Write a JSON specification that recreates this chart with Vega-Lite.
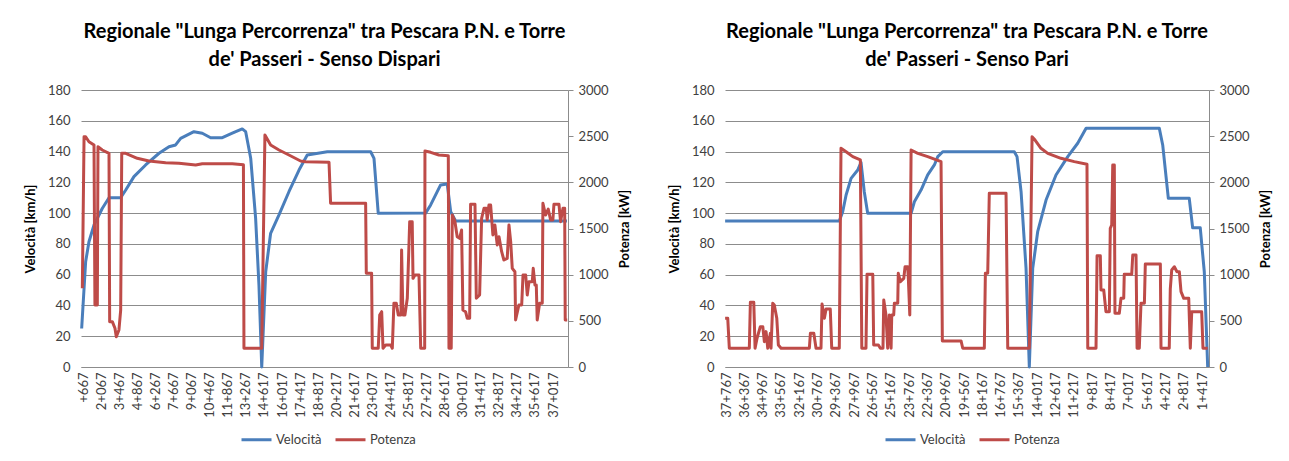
{
  "$schema": "https://vega.github.io/schema/vega-lite/v6.json",
  "padding": {"left": 24, "top": 22, "right": 5, "bottom": 2},
  "background": "white",
  "config": {
    "font": "Lato",
    "view": {"stroke": null},
    "axis": {"labelFont": "Lato", "labelFontSize": 13, "labelColor": "#404040", "titleFont": "Lato", "titleFontSize": 13, "titleFontWeight": "bold", "titleColor": "#000000", "gridColor": "#8c8c8c", "domainColor": "#8c8c8c", "tickColor": "#8c8c8c"},
    "title": {"font": "Lato", "fontSize": 20, "fontWeight": "bold", "color": "#000000", "lineHeight": 28, "anchor": "middle", "offset": 14},
    "legend": {"labelFont": "Lato", "labelFontSize": 13, "labelColor": "#404040"},
    "line": {"strokeWidth": 3, "strokeJoin": "round"}
  },
  "datasets": {
    "dv": [
      {"km": -0.10, "v": 25}, {"km": 0.20, "v": 68.4}, {"km": 0.45, "v": 81.4}, {"km": 0.83, "v": 92.3}, {"km": 1.45, "v": 103}, {"km": 1.96, "v": 110}, {"km": 2.84, "v": 110}, {"km": 3.22, "v": 115}, {"km": 3.84, "v": 123.7}, {"km": 4.72, "v": 131.3}, {"km": 5.73, "v": 138.9}, {"km": 6.48, "v": 143.1}, {"km": 6.98, "v": 144.3}, {"km": 7.36, "v": 148.6}, {"km": 8.36, "v": 152.9}, {"km": 8.99, "v": 151.9}, {"km": 9.62, "v": 149}, {"km": 10.50, "v": 149}, {"km": 11.25, "v": 151.9}, {"km": 12.00, "v": 154.7}, {"km": 12.26, "v": 152.9}, {"km": 12.64, "v": 135.6}, {"km": 13.01, "v": 96.6}, {"km": 13.26, "v": 53.3}, {"km": 13.47, "v": 0}, {"km": 13.77, "v": 61.9}, {"km": 14.14, "v": 86.9}, {"km": 14.77, "v": 98.8}, {"km": 15.52, "v": 113.9}, {"km": 16.28, "v": 128}, {"km": 16.90, "v": 137.8}, {"km": 18.41, "v": 139.9}, {"km": 21.68, "v": 139.9}, {"km": 21.93, "v": 135.6}, {"km": 22.25, "v": 99.9}, {"km": 25.82, "v": 100}, {"km": 26.20, "v": 105.3}, {"km": 26.95, "v": 118.3}, {"km": 27.45, "v": 118.9}, {"km": 27.71, "v": 100.9}, {"km": 28.08, "v": 94.9}, {"km": 36.47, "v": 94.9}
    ],
    "dp": [
      {"km": -0.05, "p": 852}, {"km": 0.08, "p": 2494}, {"km": 0.20, "p": 2494}, {"km": 0.45, "p": 2440}, {"km": 0.83, "p": 2404}, {"km": 0.90, "p": 671}, {"km": 1.08, "p": 671}, {"km": 1.13, "p": 2386}, {"km": 1.45, "p": 2350}, {"km": 1.96, "p": 2314}, {"km": 2.01, "p": 491}, {"km": 2.21, "p": 491}, {"km": 2.41, "p": 419}, {"km": 2.51, "p": 328}, {"km": 2.71, "p": 401}, {"km": 2.84, "p": 617}, {"km": 2.92, "p": 2314}, {"km": 3.22, "p": 2314}, {"km": 4.09, "p": 2260}, {"km": 4.97, "p": 2231}, {"km": 6.23, "p": 2213}, {"km": 7.23, "p": 2206}, {"km": 8.49, "p": 2188}, {"km": 8.99, "p": 2202}, {"km": 11.25, "p": 2202}, {"km": 12.09, "p": 2190}, {"km": 12.13, "p": 203}, {"km": 13.47, "p": 203}, {"km": 13.71, "p": 2513}, {"km": 14.14, "p": 2404}, {"km": 14.77, "p": 2350}, {"km": 15.52, "p": 2296}, {"km": 16.40, "p": 2231}, {"km": 16.78, "p": 2224}, {"km": 18.54, "p": 2217}, {"km": 18.66, "p": 1773}, {"km": 21.30, "p": 1773}, {"km": 21.35, "p": 1015}, {"km": 21.75, "p": 1015}, {"km": 21.80, "p": 203}, {"km": 22.25, "p": 203}, {"km": 22.36, "p": 563}, {"km": 22.51, "p": 599}, {"km": 22.61, "p": 203}, {"km": 22.81, "p": 238}, {"km": 23.19, "p": 238}, {"km": 23.31, "p": 203}, {"km": 23.43, "p": 690}, {"km": 23.61, "p": 690}, {"km": 23.76, "p": 563}, {"km": 23.96, "p": 563}, {"km": 24.01, "p": 1267}, {"km": 24.11, "p": 563}, {"km": 24.26, "p": 563}, {"km": 24.44, "p": 744}, {"km": 24.62, "p": 1574}, {"km": 24.81, "p": 1574}, {"km": 24.87, "p": 960}, {"km": 25.02, "p": 996}, {"km": 25.32, "p": 996}, {"km": 25.45, "p": 203}, {"km": 25.75, "p": 203}, {"km": 25.77, "p": 2339}, {"km": 26.20, "p": 2325}, {"km": 26.82, "p": 2296}, {"km": 27.53, "p": 2289}, {"km": 27.58, "p": 203}, {"km": 27.75, "p": 203}, {"km": 27.83, "p": 1646}, {"km": 28.03, "p": 1574}, {"km": 28.20, "p": 1411}, {"km": 28.38, "p": 1393}, {"km": 28.53, "p": 1484}, {"km": 28.63, "p": 617}, {"km": 28.83, "p": 599}, {"km": 28.96, "p": 527}, {"km": 29.14, "p": 527}, {"km": 29.21, "p": 1762}, {"km": 29.54, "p": 1762}, {"km": 29.64, "p": 744}, {"km": 29.89, "p": 780}, {"km": 30.04, "p": 1610}, {"km": 30.22, "p": 1719}, {"km": 30.39, "p": 1719}, {"km": 30.46, "p": 1592}, {"km": 30.59, "p": 1754}, {"km": 30.72, "p": 1754}, {"km": 30.89, "p": 1430}, {"km": 31.04, "p": 1538}, {"km": 31.22, "p": 1321}, {"km": 31.35, "p": 1411}, {"km": 31.55, "p": 1249}, {"km": 31.72, "p": 1159}, {"km": 31.97, "p": 1177}, {"km": 32.10, "p": 1538}, {"km": 32.23, "p": 1357}, {"km": 32.35, "p": 1069}, {"km": 32.55, "p": 1032}, {"km": 32.60, "p": 509}, {"km": 32.85, "p": 671}, {"km": 33.06, "p": 671}, {"km": 33.16, "p": 996}, {"km": 33.36, "p": 996}, {"km": 33.48, "p": 780}, {"km": 33.61, "p": 924}, {"km": 33.86, "p": 924}, {"km": 33.93, "p": 1069}, {"km": 34.06, "p": 888}, {"km": 34.16, "p": 888}, {"km": 34.23, "p": 509}, {"km": 34.41, "p": 690}, {"km": 34.61, "p": 690}, {"km": 34.66, "p": 1773}, {"km": 34.86, "p": 1646}, {"km": 35.06, "p": 1711}, {"km": 35.24, "p": 1592}, {"km": 35.41, "p": 1592}, {"km": 35.49, "p": 1762}, {"km": 35.87, "p": 1762}, {"km": 35.99, "p": 1574}, {"km": 36.17, "p": 1719}, {"km": 36.30, "p": 1719}, {"km": 36.34, "p": 509}, {"km": 36.49, "p": 509}
    ],
    "pv": [
      {"km": -0.07, "v": 94.9}, {"km": 8.66, "v": 94.9}, {"km": 8.92, "v": 100.9}, {"km": 9.18, "v": 111.8}, {"km": 9.56, "v": 122.6}, {"km": 10.07, "v": 128}, {"km": 10.32, "v": 133}, {"km": 10.57, "v": 113.9}, {"km": 10.83, "v": 99.9}, {"km": 14.15, "v": 99.9}, {"km": 14.40, "v": 107.4}, {"km": 14.91, "v": 115}, {"km": 15.42, "v": 124.8}, {"km": 15.93, "v": 131.3}, {"km": 16.19, "v": 136.7}, {"km": 16.57, "v": 139.9}, {"km": 22.04, "v": 139.9}, {"km": 22.25, "v": 136.7}, {"km": 22.56, "v": 113.9}, {"km": 22.94, "v": 64.1}, {"km": 23.19, "v": 0}, {"km": 23.45, "v": 64.1}, {"km": 23.83, "v": 87.9}, {"km": 24.47, "v": 108.5}, {"km": 25.23, "v": 124.8}, {"km": 26.13, "v": 136.7}, {"km": 26.89, "v": 145.4}, {"km": 27.53, "v": 155.1}, {"km": 33.13, "v": 155.1}, {"km": 33.39, "v": 144.3}, {"km": 33.82, "v": 109.6}, {"km": 35.42, "v": 109.6}, {"km": 35.68, "v": 90.5}, {"km": 36.26, "v": 90.5}, {"km": 36.57, "v": 61.9}, {"km": 36.83, "v": 0}
    ],
    "pp": [
      {"km": -0.07, "p": 527}, {"km": 0.13, "p": 527}, {"km": 0.25, "p": 203}, {"km": 1.78, "p": 203}, {"km": 1.86, "p": 700}, {"km": 2.12, "p": 700}, {"km": 2.22, "p": 203}, {"km": 2.37, "p": 311}, {"km": 2.62, "p": 437}, {"km": 2.81, "p": 437}, {"km": 2.93, "p": 274}, {"km": 3.06, "p": 383}, {"km": 3.19, "p": 203}, {"km": 3.39, "p": 365}, {"km": 3.44, "p": 203}, {"km": 3.57, "p": 690}, {"km": 3.69, "p": 671}, {"km": 3.88, "p": 527}, {"km": 4.00, "p": 238}, {"km": 4.21, "p": 203}, {"km": 6.37, "p": 203}, {"km": 6.45, "p": 365}, {"km": 6.71, "p": 365}, {"km": 6.88, "p": 203}, {"km": 7.26, "p": 203}, {"km": 7.34, "p": 682}, {"km": 7.52, "p": 527}, {"km": 7.65, "p": 628}, {"km": 7.97, "p": 628}, {"km": 8.08, "p": 203}, {"km": 8.66, "p": 203}, {"km": 8.79, "p": 2369}, {"km": 9.18, "p": 2332}, {"km": 9.69, "p": 2278}, {"km": 10.27, "p": 2242}, {"km": 10.38, "p": 203}, {"km": 10.70, "p": 203}, {"km": 10.78, "p": 1004}, {"km": 11.22, "p": 1004}, {"km": 11.29, "p": 238}, {"km": 11.65, "p": 238}, {"km": 11.80, "p": 203}, {"km": 12.00, "p": 203}, {"km": 12.06, "p": 726}, {"km": 12.23, "p": 563}, {"km": 12.36, "p": 203}, {"km": 12.49, "p": 563}, {"km": 12.62, "p": 203}, {"km": 12.67, "p": 563}, {"km": 12.82, "p": 563}, {"km": 12.87, "p": 690}, {"km": 13.13, "p": 690}, {"km": 13.17, "p": 1015}, {"km": 13.33, "p": 924}, {"km": 13.59, "p": 960}, {"km": 13.69, "p": 1086}, {"km": 13.89, "p": 1086}, {"km": 13.94, "p": 960}, {"km": 14.05, "p": 563}, {"km": 14.15, "p": 2350}, {"km": 14.66, "p": 2314}, {"km": 15.42, "p": 2278}, {"km": 16.44, "p": 2224}, {"km": 16.54, "p": 282}, {"km": 17.97, "p": 282}, {"km": 18.10, "p": 203}, {"km": 19.75, "p": 203}, {"km": 19.83, "p": 1015}, {"km": 20.01, "p": 1015}, {"km": 20.13, "p": 1881}, {"km": 21.41, "p": 1881}, {"km": 21.54, "p": 203}, {"km": 23.19, "p": 203}, {"km": 23.40, "p": 2494}, {"km": 23.63, "p": 2458}, {"km": 24.08, "p": 2369}, {"km": 24.60, "p": 2314}, {"km": 25.61, "p": 2260}, {"km": 26.63, "p": 2224}, {"km": 27.60, "p": 2195}, {"km": 27.66, "p": 203}, {"km": 28.29, "p": 203}, {"km": 28.37, "p": 1205}, {"km": 28.62, "p": 1205}, {"km": 28.67, "p": 834}, {"km": 28.88, "p": 834}, {"km": 29.05, "p": 599}, {"km": 29.31, "p": 599}, {"km": 29.38, "p": 1502}, {"km": 29.49, "p": 1538}, {"km": 29.57, "p": 2188}, {"km": 29.69, "p": 2188}, {"km": 29.74, "p": 581}, {"km": 30.07, "p": 581}, {"km": 30.20, "p": 744}, {"km": 30.41, "p": 744}, {"km": 30.45, "p": 1004}, {"km": 31.02, "p": 1004}, {"km": 31.10, "p": 1213}, {"km": 31.35, "p": 1213}, {"km": 31.43, "p": 203}, {"km": 31.60, "p": 203}, {"km": 31.73, "p": 690}, {"km": 31.99, "p": 690}, {"km": 32.06, "p": 1115}, {"km": 33.21, "p": 1115}, {"km": 33.26, "p": 203}, {"km": 33.89, "p": 203}, {"km": 33.97, "p": 845}, {"km": 34.08, "p": 1051}, {"km": 34.28, "p": 1086}, {"km": 34.48, "p": 1032}, {"km": 34.66, "p": 1032}, {"km": 34.79, "p": 816}, {"km": 35.00, "p": 744}, {"km": 35.38, "p": 744}, {"km": 35.50, "p": 203}, {"km": 35.61, "p": 599}, {"km": 36.37, "p": 599}, {"km": 36.47, "p": 203}, {"km": 36.83, "p": 203}
    ]
  },
  "hconcat": [
    {
      "title": {"text": ["Regionale \"Lunga Percorrenza\" tra Pescara P.N. e Torre", "de' Passeri - Senso Dispari"]},
      "width": 487,
      "height": 277,
      "encoding": {
        "x": {"field": "km", "type": "quantitative", "scale": {"domain": [-0.15, 36.55], "nice": false, "zero": false},
          "axis": {"title": null, "values": [0.02, 1.38, 2.745, 4.107, 5.468, 6.83, 8.19, 9.553, 10.915, 12.276, 13.638, 14.999, 16.361, 17.723, 19.084, 20.446, 21.808, 23.169, 24.531, 25.892, 27.254, 28.616, 29.977, 31.339, 32.7, 34.062, 35.424], "labelAngle": 270, "labelOverlap": false, "labelFlush": false, "labelBound": false, "grid": false, "ticks": false, "domain": true, "labelPadding": 5,
            "labelExpr": "['+667','2+067','3+467','4+867','6+267','7+667','9+067','10+467','11+867','13+267','14+617','16+017','17+417','18+817','20+217','21+617','23+017','24+417','25+817','27+217','28+617','30+017','31+417','32+817','34+217','35+617','37+017'][round((datum.value-0.02)/1.3616)]"}}
      },
      "layer": [
        {
          "data": {"name": "dv"},
          "mark": {"type": "line"},
          "encoding": {
            "y": {"field": "v", "type": "quantitative", "scale": {"domain": [0, 180], "nice": false},
              "axis": {"title": "Velocità  [km/h]", "values": [0, 20, 40, 60, 80, 100, 120, 140, 160, 180], "grid": true, "domain": false, "ticks": false, "labelPadding": 11, "titlePadding": 10}},
            "color": {"datum": "Velocità", "type": "nominal", "scale": {"domain": ["Velocità", "Potenza"], "range": ["#4A7EBB", "#BE4B48"]},
              "legend": {"title": null, "orient": "none", "legendX": 159, "legendY": 333, "direction": "horizontal", "symbolType": "stroke", "symbolSize": 900, "symbolStrokeWidth": 3, "labelOffset": 3, "columnPadding": 12}}
          }
        },
        {
          "data": {"name": "dp"},
          "mark": {"type": "line"},
          "encoding": {
            "y": {"field": "p", "type": "quantitative", "scale": {"domain": [0, 3000], "nice": false},
              "axis": {"orient": "right", "title": "Potenza  [kW]", "titleAngle": 270, "titleBaseline": "top", "format": "d", "values": [0, 500, 1000, 1500, 2000, 2500, 3000], "grid": false, "domain": true, "ticks": true, "tickSize": 5, "labelPadding": 5, "titlePadding": 10}},
            "color": {"datum": "Potenza", "type": "nominal"}
          }
        }
      ],
      "resolve": {"scale": {"y": "independent"}}
    },
    {
      "title": {"text": ["Regionale \"Lunga Percorrenza\" tra Pescara P.N. e Torre", "de' Passeri - Senso Pari"]},
      "width": 484,
      "height": 277,
      "encoding": {
        "x": {"field": "km", "type": "quantitative", "scale": {"domain": [-0.08, 36.93], "nice": false, "zero": false},
          "axis": {"title": null, "values": [0, 1.4, 2.8, 4.2, 5.6, 7, 8.4, 9.8, 11.2, 12.6, 14, 15.4, 16.8, 18.2, 19.6, 21, 22.4, 23.8, 25.2, 26.6, 28, 29.4, 30.8, 32.2, 33.6, 35, 36.4], "labelAngle": 270, "labelOverlap": false, "labelFlush": false, "labelBound": false, "grid": false, "ticks": false, "domain": true, "labelPadding": 5,
            "labelExpr": "['37+767','36+367','34+967','33+567','32+167','30+767','29+367','27+967','26+567','25+167','23+767','22+367','20+967','19+567','18+167','16+767','15+367','14+017','12+617','11+217','9+817','8+417','7+017','5+617','4+217','2+817','1+417'][round(datum.value/1.4)]"}}
      },
      "layer": [
        {
          "data": {"name": "pv"},
          "mark": {"type": "line"},
          "encoding": {
            "y": {"field": "v", "type": "quantitative", "scale": {"domain": [0, 180], "nice": false},
              "axis": {"title": "Velocità  [km/h]", "values": [0, 20, 40, 60, 80, 100, 120, 140, 160, 180], "grid": true, "domain": false, "ticks": false, "labelPadding": 11, "titlePadding": 10}},
            "color": {"datum": "Velocità", "type": "nominal", "scale": {"domain": ["Velocità", "Potenza"], "range": ["#4A7EBB", "#BE4B48"]},
              "legend": {"title": null, "orient": "none", "legendX": 159, "legendY": 333, "direction": "horizontal", "symbolType": "stroke", "symbolSize": 900, "symbolStrokeWidth": 3, "labelOffset": 3, "columnPadding": 12}}
          }
        },
        {
          "data": {"name": "pp"},
          "mark": {"type": "line"},
          "encoding": {
            "y": {"field": "p", "type": "quantitative", "scale": {"domain": [0, 3000], "nice": false},
              "axis": {"orient": "right", "title": "Potenza  [kW]", "titleAngle": 270, "titleBaseline": "top", "format": "d", "values": [0, 500, 1000, 1500, 2000, 2500, 3000], "grid": false, "domain": true, "ticks": true, "tickSize": 5, "labelPadding": 5, "titlePadding": 10}},
            "color": {"datum": "Potenza", "type": "nominal"}
          }
        }
      ],
      "resolve": {"scale": {"y": "independent"}}
    }
  ],
  "spacing": 36,
  "resolve": {"scale": {"color": "independent"}, "legend": {"color": "independent"}}
}
